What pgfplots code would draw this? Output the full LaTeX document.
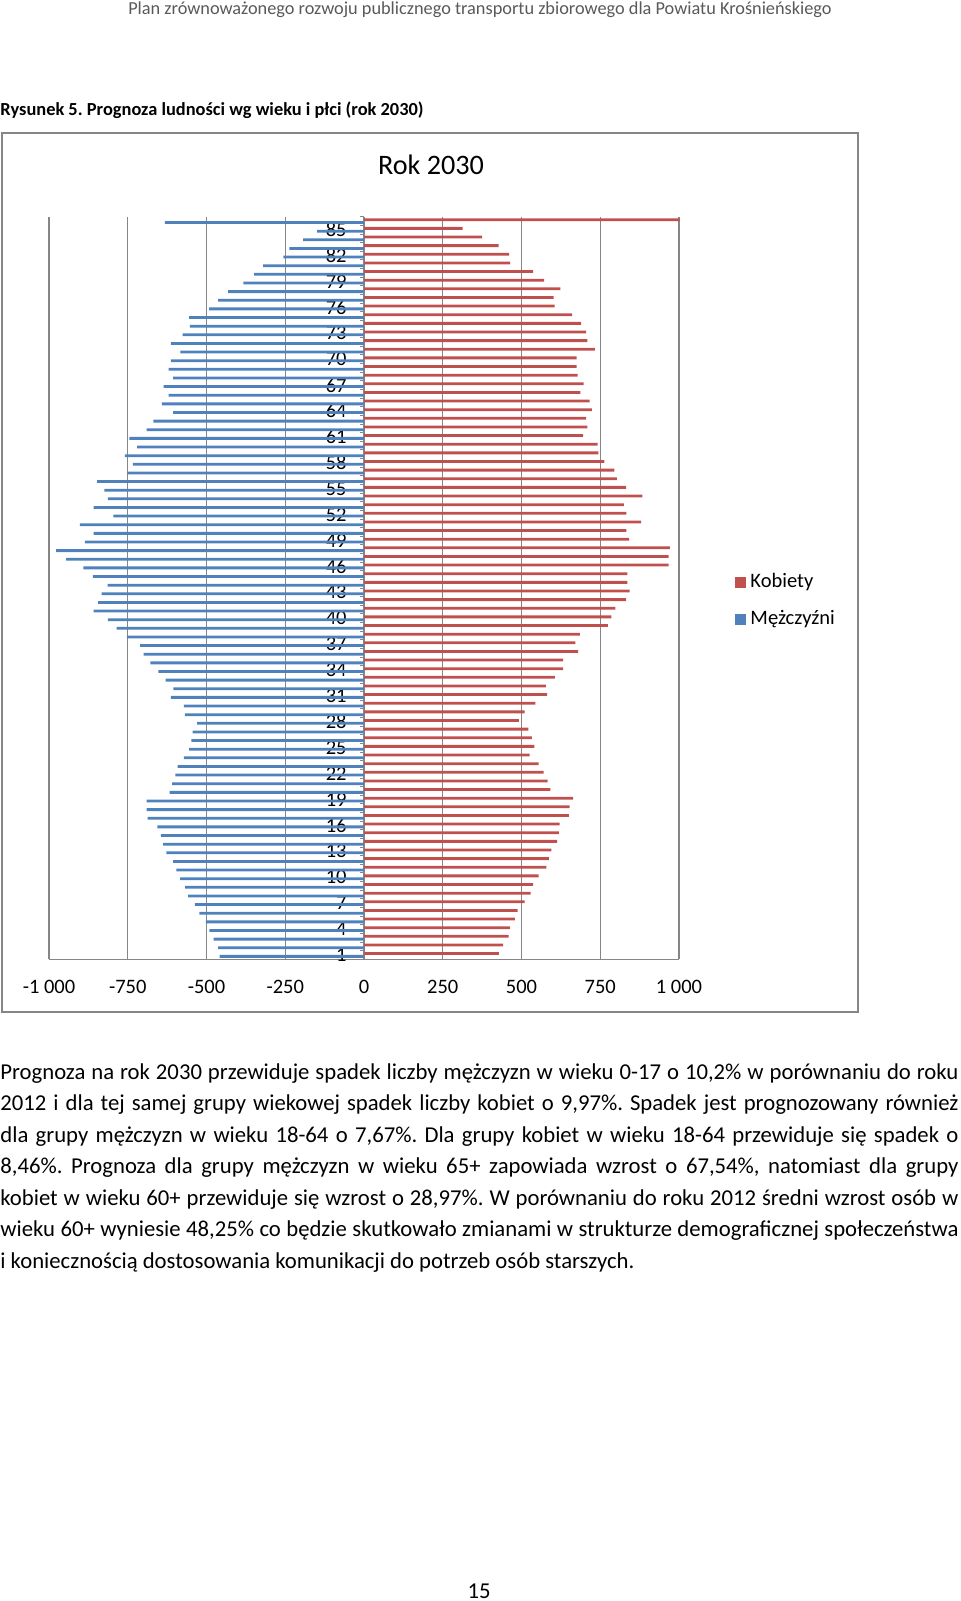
\documentclass[border=0pt]{standalone}
\usepackage{fontspec}
\setmainfont{Carlito}
\usepackage{pgfplots}
\pgfplotsset{compat=1.18}
\definecolor{kob}{HTML}{C0504D}
\definecolor{mez}{HTML}{4F81BD}
\definecolor{gridc}{HTML}{868686}
\definecolor{headc}{HTML}{595959}
\frenchspacing
\begin{document}
\begin{tikzpicture}
\begin{scope}[x=0.5pt,y=-0.5pt]
\path[use as bounding box] (0,0) rectangle (960,1601);
\node[anchor=base, inner sep=0pt, font=\fontsize{9.15}{11}\selectfont, text=headc] at (480,14) {Plan zrównoważonego rozwoju publicznego transportu zbiorowego dla Powiatu Krośnieńskiego};
\node[anchor=base west, inner sep=0pt, font=\bfseries\fontsize{9.2}{11}\selectfont] at (0,115) {Rysunek 5. Prognoza ludności wg wieku i płci (rok 2030)};
\draw[gridc, line width=0.75pt] (2,133) rectangle (858,1012);
\node[anchor=base, inner sep=0pt, font=\fontsize{14.1}{16}\selectfont] at (431,174.3) {Rok 2030};
\begin{scope}[every node/.style={anchor=base west, inner sep=0pt, font=\fontsize{11.35}{13}\selectfont}]
\node at (0,1079.3) {\makebox[479pt][s]{Prognoza na rok 2030 przewiduje spadek liczby mężczyzn w wieku 0-17 o 10,2\% w porównaniu do roku}};
\node at (0,1110.8) {\makebox[479pt][s]{2012 i dla tej samej grupy wiekowej spadek liczby kobiet o 9,97\%. Spadek jest prognozowany również}};
\node at (0,1142.3) {\makebox[479pt][s]{dla grupy mężczyzn w wieku 18-64 o 7,67\%. Dla grupy kobiet w wieku 18-64 przewiduje się spadek o}};
\node at (0,1173.8) {\makebox[479pt][s]{8,46\%. Prognoza dla grupy mężczyzn w wieku 65+ zapowiada wzrost o 67,54\%, natomiast dla grupy}};
\node at (0,1205.3) {\makebox[479pt][s]{kobiet w wieku 60+ przewiduje się wzrost o 28,97\%. W porównaniu do roku 2012 średni wzrost osób w}};
\node at (0,1236.8) {\makebox[479pt][s]{wieku 60+ wyniesie 48,25\% co będzie skutkowało zmianami w strukturze demograficznej społeczeństwa}};
\node at (0,1268.3) {i koniecznością dostosowania komunikacji do potrzeb osób starszych.};
\end{scope}
\node[anchor=base, inner sep=0pt, font=\fontsize{11.35}{13}\selectfont] at (479,1598) {15};
\end{scope}
\begin{axis}[
  at={(24.5pt,-479.65pt)}, anchor=south west,
  width=315pt, height=371.25pt, scale only axis,
  xmin=-1000, xmax=1000, ymin=0.5, ymax=86.5,
  clip=false,
  axis x line=bottom, axis y line=center,
  axis line style={gridc, line width=0.6pt, -},
  every outer x axis line/.append style={-},
  every inner y axis line/.append style={-},
  xtick={-1000,-750,-500,-250,0,250,500,750,1000},
  xticklabels={{-1 000},-750,-500,-250,0,250,500,750,{1 000}},
  xmajorgrids, grid style={gridc, line width=0.6pt},
  ytick={1,4,...,85},
  yticklabels={1,4,7,10,13,16,19,22,25,28,31,34,37,40,43,46,49,52,55,58,61,64,67,70,73,76,79,82,85},
  minor ytick={0.5,1.5,...,86.5},
  major tick length=0pt, minor tick length=2pt,
  tick style={gridc, line width=0.5pt},
  tick align=outside,
  xticklabel style={font=\fontsize{10.25}{12}\selectfont, anchor=center, yshift=-13.6pt, inner sep=0pt},
  yticklabel style={font=\fontsize{10.25}{12}\selectfont, anchor=east, inner sep=0pt, xshift=-8.5pt},
  xbar, bar width=1.4pt,
  legend style={at={(1.089,0.483)}, anchor=west, draw=none, fill=none, inner sep=0pt,
    font=\fontsize{10.25}{12}\selectfont, row sep=6pt},
  legend cell align=left,
  legend image code/.code={\draw[#1,/tikz/.cd,draw=none] (0pt,-2.75pt) rectangle (5.5pt,2.75pt);},
]
\addplot[fill=kob, draw=none, bar shift=0.7pt] coordinates {
(428,1) (442,2) (459,3) (463,4) (479,5) (488,6) (510,7) (529,8) (537,9) (554,10)
(579,11) (587,12) (595,13) (613,14) (619,15) (621,16) (650,17) (653,18) (664,19) (592,20)
(583,21) (570,22) (554,23) (526,24) (541,25) (533,26) (522,27) (492,28) (510,29) (544,30)
(581,31) (577,32) (606,33) (632,34) (632,35) (680,36) (671,37) (685,38) (774,39) (785,40)
(798,41) (832,42) (843,43) (836,44) (836,45) (967,46) (967,47) (971,48) (842,49) (833,50)
(880,51) (833,52) (825,53) (884,54) (832,55) (803,56) (795,57) (763,58) (744,59) (742,60)
(696,61) (709,62) (705,63) (723,64) (716,65) (687,66) (697,67) (678,68) (675,69) (675,70)
(733,71) (709,72) (705,73) (689,74) (661,75) (605,76) (602,77) (623,78) (572,79) (537,80)
(464,81) (461,82) (427,83) (375,84) (313,85) (1002,86)
};
\addlegendentry{Kobiety}
\addplot[fill=mez, draw=none, bar shift=-0.7pt] coordinates {
(-458,1) (-463,2) (-477,3) (-491,4) (-502,5) (-523,6) (-537,7) (-558,8) (-568,9) (-584,10)
(-596,11) (-606,12) (-627,13) (-638,14) (-645,15) (-656,16) (-687,17) (-690,18) (-690,19) (-617,20)
(-609,21) (-599,22) (-592,23) (-572,24) (-555,25) (-548,26) (-544,27) (-530,28) (-569,29) (-572,30)
(-613,31) (-605,32) (-630,33) (-653,34) (-678,35) (-700,36) (-711,37) (-753,38) (-785,39) (-813,40)
(-858,41) (-844,42) (-833,43) (-814,44) (-861,45) (-891,46) (-946,47) (-977,48) (-886,49) (-858,50)
(-902,51) (-796,52) (-858,53) (-813,54) (-824,55) (-847,56) (-751,57) (-734,58) (-759,59) (-720,60)
(-745,61) (-690,62) (-669,63) (-606,64) (-642,65) (-620,66) (-636,67) (-606,68) (-620,69) (-613,70)
(-583,71) (-613,72) (-576,73) (-553,74) (-555,75) (-492,76) (-463,77) (-431,78) (-383,79) (-349,80)
(-320,81) (-256,82) (-237,83) (-193,84) (-149,85) (-632,86)
};
\addlegendentry{Mężczyźni}
\end{axis}
\end{tikzpicture}
\end{document}
